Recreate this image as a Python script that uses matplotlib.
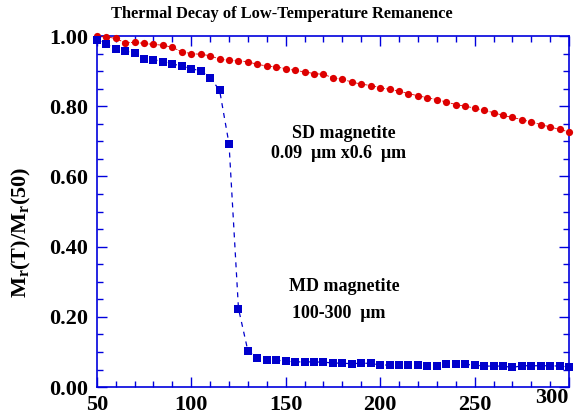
import matplotlib
matplotlib.use("Agg")
import matplotlib.pyplot as plt
import matplotlib.transforms as mtransforms
from matplotlib.ticker import MultipleLocator

# temperature steps (K)
temps = list(range(50, 305, 5))

# SD magnetite, 0.09 um x 0.6 um
sd_values = [1.000, 0.998, 0.993, 0.981, 0.982, 0.979, 0.976, 0.974, 0.968, 0.955,
             0.950, 0.948, 0.944, 0.934, 0.931, 0.929, 0.927, 0.919, 0.915, 0.912,
             0.907, 0.902, 0.898, 0.893, 0.891, 0.881, 0.877, 0.869, 0.863, 0.859,
             0.853, 0.848, 0.843, 0.836, 0.830, 0.824, 0.819, 0.812, 0.805, 0.800,
             0.795, 0.788, 0.782, 0.774, 0.768, 0.762, 0.755, 0.748, 0.741, 0.734,
             0.727]

# MD magnetite, 100-300 um
md_values = [0.990, 0.977, 0.963, 0.957, 0.952, 0.936, 0.933, 0.927, 0.921, 0.914,
             0.907, 0.901, 0.881, 0.846, 0.693, 0.224, 0.103, 0.082, 0.077, 0.077,
             0.074, 0.072, 0.072, 0.072, 0.071, 0.069, 0.068, 0.067, 0.068, 0.068,
             0.063, 0.063, 0.063, 0.063, 0.063, 0.060, 0.060, 0.065, 0.065, 0.065,
             0.063, 0.060, 0.060, 0.060, 0.056, 0.061, 0.061, 0.061, 0.061, 0.060,
             0.058]

x_ticks = [50, 100, 150, 200, 250, 300]

plt.rcParams['font.family'] = ['Liberation Serif', 'DejaVu Serif']
plt.rcParams['font.weight'] = 'bold'
plt.rcParams['mathtext.fontset'] = 'custom'
plt.rcParams['mathtext.rm'] = 'Liberation Serif:bold'
plt.rcParams['mathtext.it'] = 'Liberation Serif:bold'

axis_blue = '#0000dd'

fig = plt.figure(figsize=(5.76, 4.19), dpi=100)
ax = fig.add_axes([0.168, 0.076, 0.820, 0.838])

ax.plot(temps, sd_values, linestyle='--', linewidth=0.6, color='#dd0000',
        marker='o', markersize=5.2, markeredgewidth=0, clip_on=False, zorder=3)
ax.plot(temps, md_values, linestyle='--', linewidth=0.9, color='#0000cc',
        dashes=(4, 4), marker='s', markersize=5.2, markeredgewidth=0,
        clip_on=False, zorder=3)

ax.set_xlim(50, 300)
ax.set_ylim(0, 1.0)
ax.set_xticks(x_ticks)
ax.xaxis.set_minor_locator(MultipleLocator(10))
ax.yaxis.set_major_locator(MultipleLocator(0.2))
ax.yaxis.set_minor_locator(MultipleLocator(0.05))
ax.yaxis.set_major_formatter(plt.FormatStrFormatter('%.2f'))

for s in ax.spines.values():
    s.set_color(axis_blue)
    s.set_linewidth(1.2)
ax.tick_params(which='both', direction='in', top=True, right=True,
               color=axis_blue, labelsize=16, width=1.0)
ax.tick_params(which='major', length=7, pad=6)
ax.tick_params(which='minor', length=4)
for lab in ax.get_xticklabels() + ax.get_yticklabels():
    lab.set_fontweight('bold')

# last x label sits pulled in and a bit higher, as in the original
last = ax.xaxis.get_major_ticks()[len(x_ticks) - 1].label1
last.set_transform(last.get_transform() +
                   mtransforms.ScaledTranslation(-17 / 100, 7 / 100, fig.dpi_scale_trans))

ax.set_ylabel(r'M$_\mathregular{r}$(T)/M$_\mathregular{r}$(50)', fontsize=16,
              fontweight='bold')
ax.yaxis.set_label_coords(-0.135, 0.44)
fig.text(0.49, 0.966, 'Thermal Decay of Low-Temperature Remanence', fontsize=11.8,
         fontweight='bold', ha='center', va='center')

ax.text(181, 0.723, 'SD magnetite', fontsize=13, fontweight='bold',
        ha='center', va='center')
ax.text(178, 0.666, '0.09  μm x0.6  μm', fontsize=13, fontweight='bold',
        ha='center', va='center')
ax.text(181, 0.286, 'MD magnetite', fontsize=13, fontweight='bold',
        ha='center', va='center')
ax.text(178, 0.211, '100-300  μm', fontsize=13, fontweight='bold',
        ha='center', va='center')

fig.savefig('out.png', dpi=100)
